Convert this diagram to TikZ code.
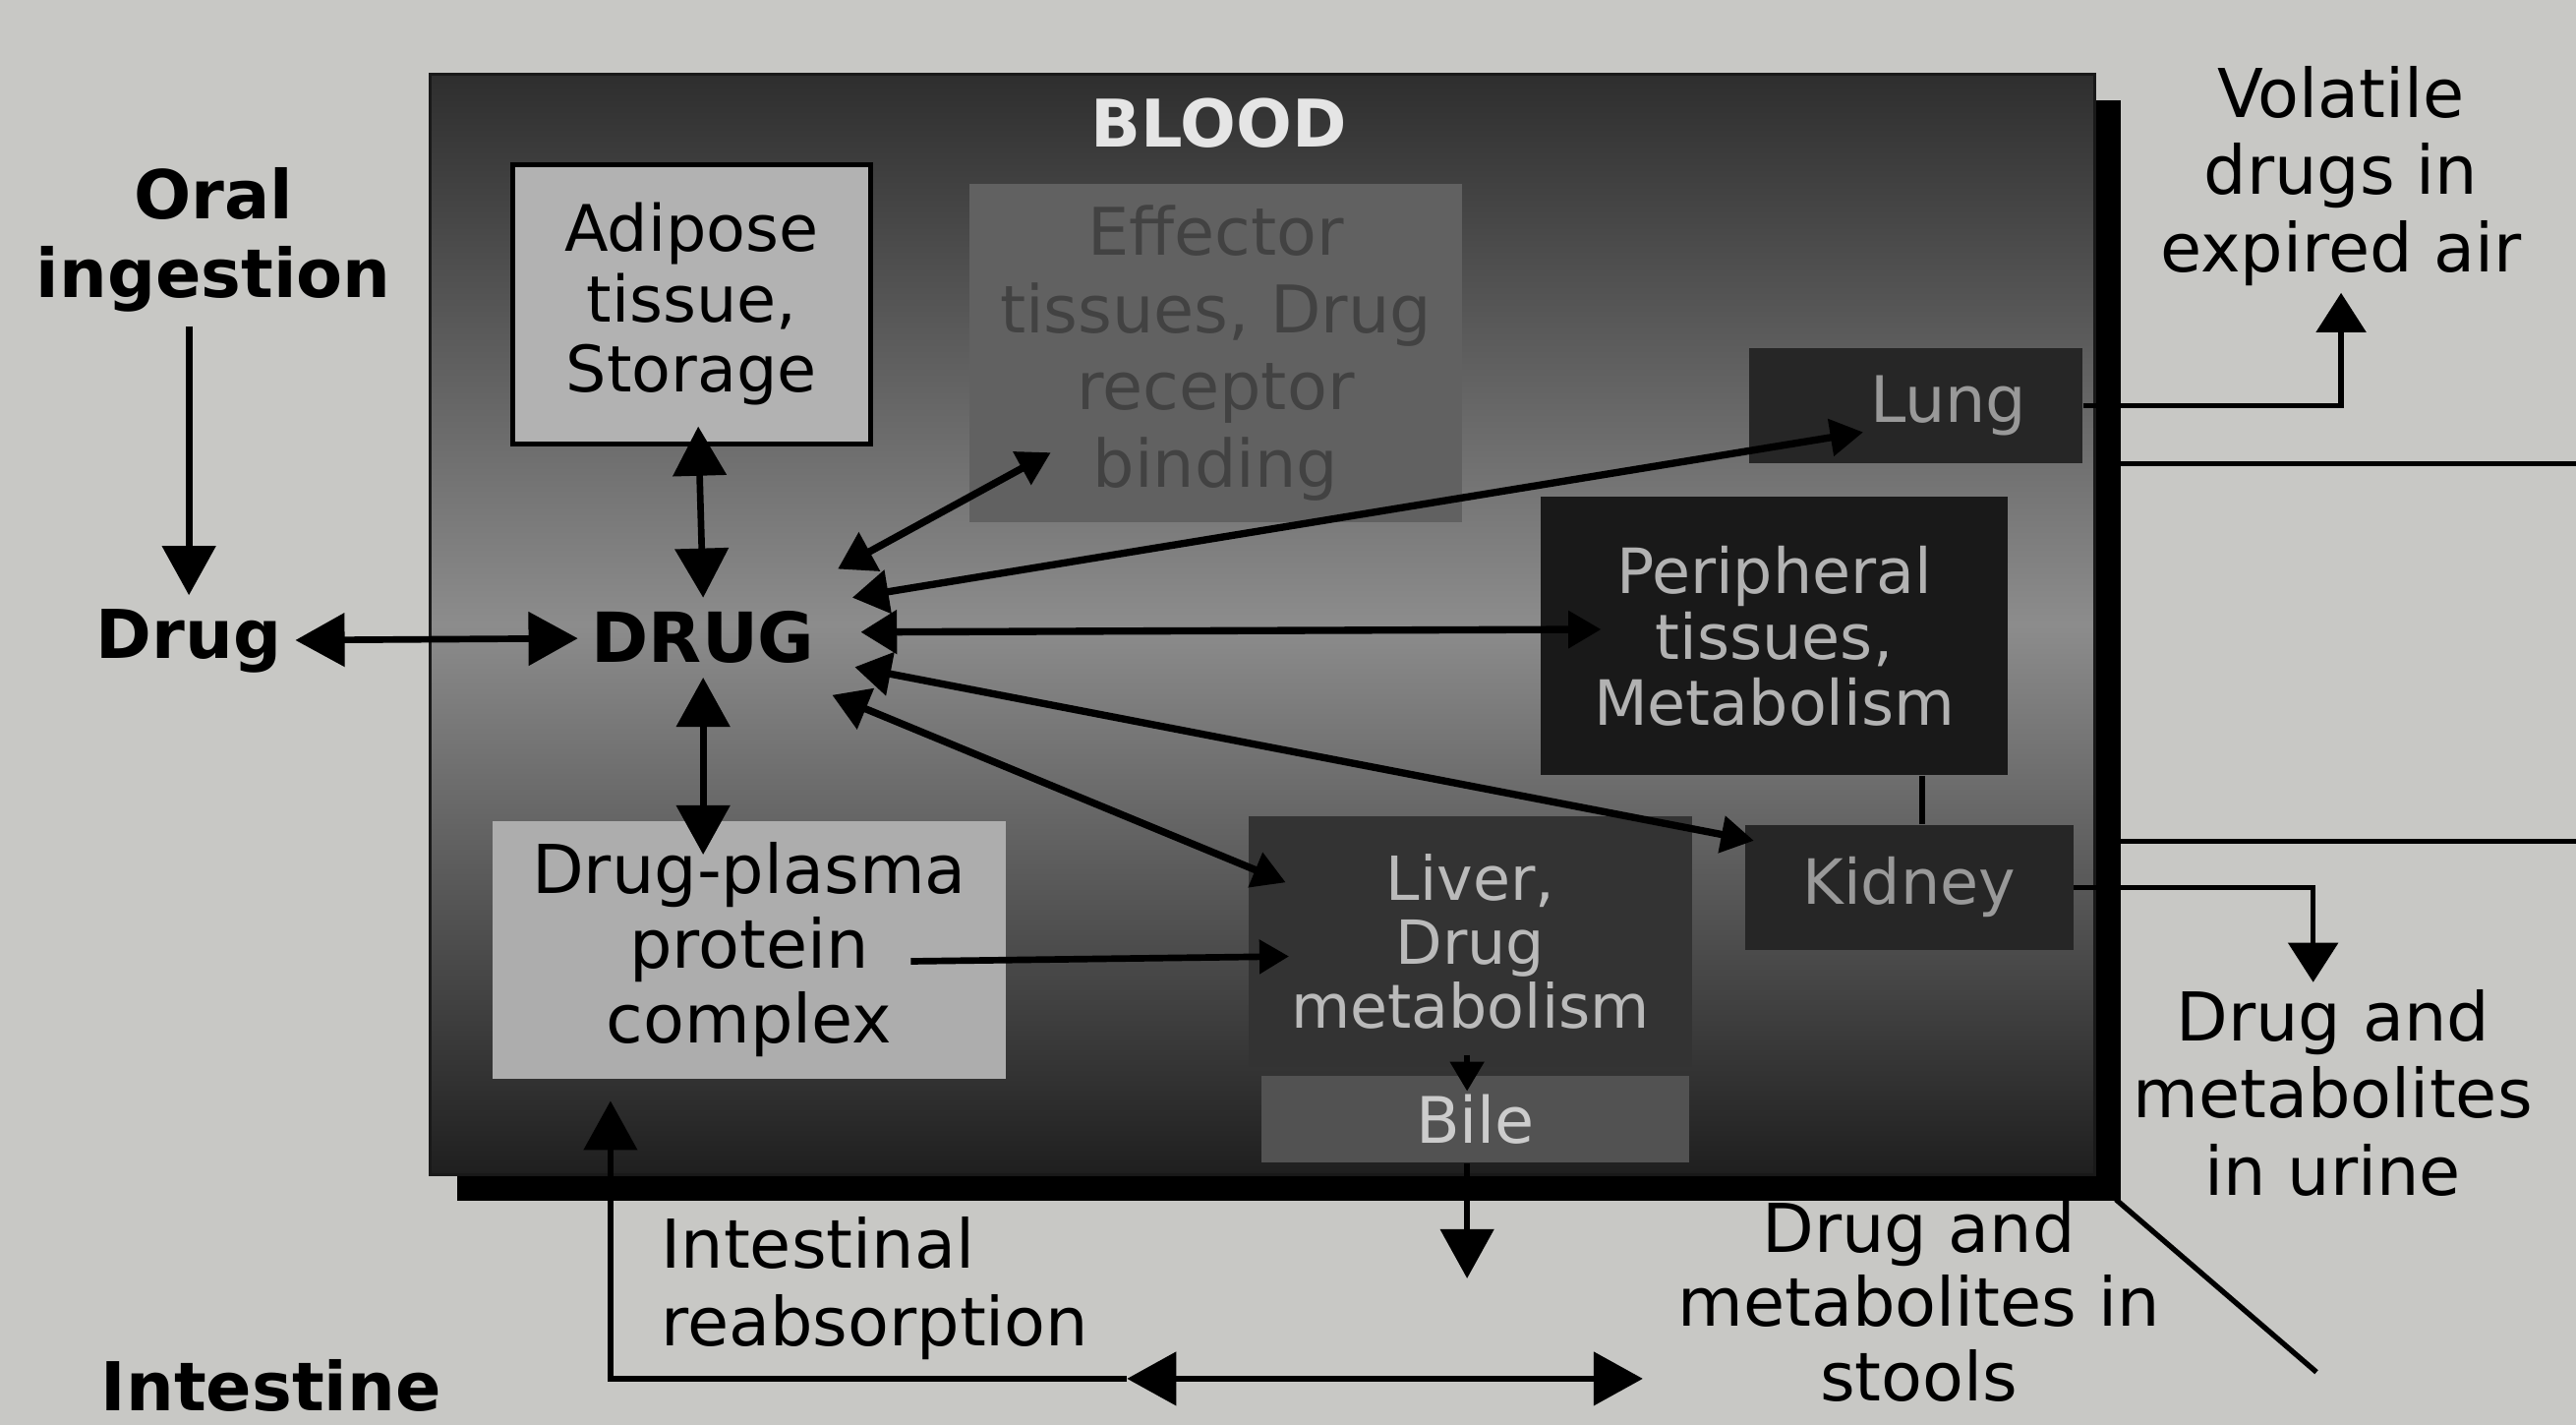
\documentclass[tikz,border=0pt]{standalone}
\usepackage{fontspec}
\setmainfont{DejaVu Sans}
\usetikzlibrary{arrows.meta, positioning, shadows}

\definecolor{paper}{RGB}{200,200,197}

\begin{document}
\begin{tikzpicture}[
    x=0.5pt, y=-0.5pt,
    bloodbox/.style={rectangle, minimum width=506.5pt, minimum height=335pt, draw=black!90, line width=1pt, top color=black!82, bottom color=black!88, middle color=black!45, drop shadow={shadow xshift=8pt, shadow yshift=-8pt, fill=black, opacity=1}},
    organ/.style={rectangle, inner sep=0pt, align=center, font=\fontsize{19.5}{21.5}\selectfont},
    lightorgan/.style={organ, fill=black!30, text=black},
    darkorgan/.style={organ, fill=black!85, text=black!40},
    outtext/.style={align=center, inner sep=2pt, font=\fontsize{20.5}{23.5}\selectfont},
    outbold/.style={align=center, inner sep=4pt, font=\fontsize{20.5}{24}\selectfont\bfseries},
    arrow/.style={line width=2pt, -{Triangle[length=15pt, width=16pt]}},
    biarrow/.style={line width=2pt, {Triangle[length=15pt, width=16pt]}-{Triangle[length=15pt, width=16pt]}},
    fan/.style={line width=2.2pt, {Triangle[length=11pt, width=13pt]}-{Triangle[length=10pt, width=11pt]}},
    smallarrow/.style={line width=2pt, -{Triangle[length=9pt, width=10pt]}},
    thinline/.style={line width=1.6pt},
    thinarrow/.style={thinline, -{Triangle[length=12pt, width=15pt]}}
]
% paper
\useasboundingbox (0,0) rectangle (1568,867);
\fill[paper] (0,0) rectangle (1568,867);

% blood compartment
\node (blood) [bloodbox] at (768.5,380) {};
\node (bloodtitle) [font=\fontsize{20}{24}\selectfont\bfseries, text=black!10] at (742,75) {BLOOD};

\node (adipose) [lightorgan, draw=black, line width=1.5pt, minimum width=109pt, minimum height=85pt] at (421,185) {Adipose\\tissue,\\Storage};
\node (effector) [organ, fill=black!62, text=black!74, minimum width=150pt, minimum height=103pt, font=\fontsize{20}{23.5}\selectfont] at (740,215) {Effector\\tissues, Drug\\receptor\\binding};
\node (lung) [darkorgan, minimum width=101.5pt, minimum height=35pt] at (1166,247) {\hspace{20pt}Lung};
\node (periph) [darkorgan, fill=black!90, text=black!30, minimum width=142pt, minimum height=84.5pt, font=\fontsize{19}{20}\selectfont] at (1080,387) {Peripheral\\tissues,\\Metabolism};
\node (kidney) [darkorgan, minimum width=100pt, minimum height=38pt, font=\fontsize{19}{21}\selectfont] at (1162,540) {Kidney};
\node (liver) [darkorgan, fill=black!80, text=black!27, minimum width=135pt, minimum height=76.5pt, font=\fontsize{18.5}{19.5}\selectfont] at (895,573) {Liver,\\Drug\\metabolism};
\node (bile) [darkorgan, fill=black!68, text=black!20, minimum width=130pt, minimum height=26.5pt] at (898,681) {Bile};
\node (plasma) [lightorgan, fill=black!32, minimum width=156pt, minimum height=78.5pt, font=\fontsize{20.5}{22.75}\selectfont] at (456,578) {Drug-plasma\\protein\\complex};

\node (drugcore) [outbold, font=\fontsize{21}{24}\selectfont\bfseries] at (428,388) {DRUG};

% outside labels
\node (drug) [outbold] at (115,390) {Drug};
\node (oral) [outbold] at (130,146) {Oral\\ingestion};
\node (intestine) [outbold] at (165,843) {Intestine};
\node (volatile) [outtext] at (1425,107) {Volatile\\drugs in\\expired air};
\node (urine) [outtext] at (1420,665) {Drug and\\metabolites\\in urine};
\node (stools) [outtext, font=\fontsize{20.5}{22.5}\selectfont] at (1168,792) {Drug and\\metabolites in\\stools};
\node (reabs) [outtext, align=left, anchor=west] at (398,784) {Intestinal\\reabsorption};

\coordinate (bileout) at (893,778);
\coordinate (intleft) at (686,839);
\coordinate (intright) at (1000,839);
\coordinate (edgetop) at (1568,282);
\coordinate (edgebot) at (1568,512);
\coordinate (diagend) at (1410,835);

% uptake and storage
\draw [arrow] (oral.south -| drug.north) -- (drug.north);
\draw [biarrow] (drug) -- (drugcore);
\draw [biarrow] ([shift={(4,-12)}]adipose.south) -- (drugcore.north);
\draw [biarrow] (drugcore.south) -- ([shift={(-28,21)}]plasma.north);

% distribution
\draw [fan] ([shift={(27:46pt)}]drugcore.center) -- ([shift={(50,-43)}]effector.south west);
\draw [fan] ([shift={(15:47pt)}]drugcore.center) -- ([shift={(70,16)}]lung.west);
\draw [fan] ([shift={(2:48pt)}]drugcore.center) -- ([shift={(37,-4)}]periph.west);
\draw [fan] ([shift={(-11:47pt)}]drugcore.center) -- ([shift={(6,10)}]kidney.north west);
\draw [fan] ([shift={(-24:43pt)}]drugcore.center) -- ([shift={(23,-36)}]liver.west);
\draw [smallarrow] ([shift={(-58,7)}]plasma.east) -- ([shift={(25,9)}]liver.west);
\draw [line width=2pt] ([xshift=45pt]periph.south) -- ([xshift=4pt]kidney.north);
\draw [smallarrow] ([shift={(-2,-8)}]liver.south) -- ([shift={(-5,10)}]bile.north);

% elimination
\draw [arrow] ([xshift=-2.5pt]bile.south) -- (bileout);
\draw [thinarrow] (lung.east) -| (volatile.south);
\draw [thinarrow] (kidney.east) -| ([xshift=-6pt]urine.north);
\draw [thinline] (edgetop -| blood.east) -- (edgetop);
\draw [thinline] (edgebot -| blood.east) -- (edgebot);
\draw [thinline] ([shift={(12,14)}]blood.south east) -- (diagend);
\draw [arrow] (intleft) -| ([shift={(72,13)}]plasma.south west);
\draw [biarrow] (intleft) -- (intright);
\end{tikzpicture}
\end{document}
